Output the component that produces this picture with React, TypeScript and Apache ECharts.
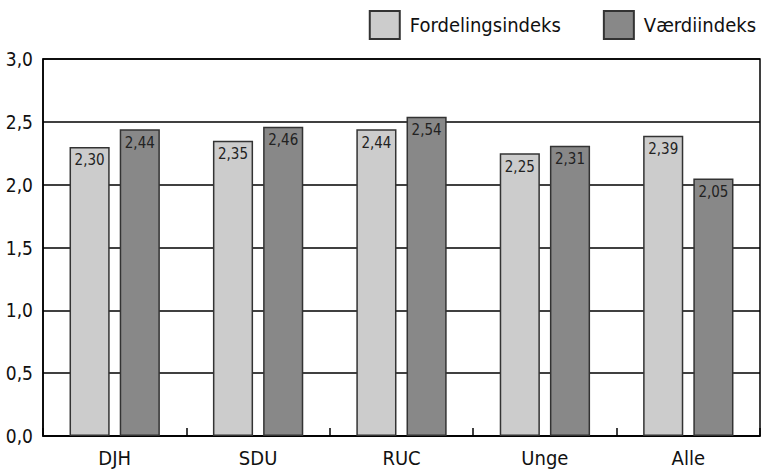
import React, { useEffect, useRef } from "react";
import * as echarts from "echarts";

const categories = ["DJH", "SDU", "RUC", "Unge", "Alle"];
const fordelingsindeks = [2.3, 2.35, 2.44, 2.25, 2.39];
const vaerdiindeks = [2.44, 2.46, 2.54, 2.31, 2.05];
const seriesNames = ["Fordelingsindeks", "Værdiindeks"];

const FONT = "'Liberation Sans Narrow', 'DejaVu Sans Condensed', 'Roboto', sans-serif";
const fmt = (v: number) => v.toFixed(2).replace(".", ",");

export default function App() {
  const ref = useRef<HTMLDivElement>(null);
  useEffect(() => {
    const chart = echarts.init(ref.current!, null, { renderer: "svg" });
    const label = {
      show: true,
      position: "insideTop" as const,
      distance: 6,
      color: "#222",
      fontSize: 15,
      fontFamily: FONT,
      formatter: (p: any) => fmt(p.value),
    };
    chart.setOption({
      animation: false,
      backgroundColor: "#fff",
      textStyle: { fontFamily: FONT },
      legend: {
        top: 5,
        right: 6,
        icon: "rect",
        itemWidth: 30,
        itemHeight: 28,
        itemGap: 42,
        textStyle: { fontSize: 20, color: "#111", fontFamily: FONT, padding: [0, 0, 0, 5] },
        data: seriesNames,
      },
      grid: {
        left: 43,
        right: 7,
        top: 59,
        bottom: 36,
        show: true,
        borderColor: "#000",
        borderWidth: 1.5,
      },
      xAxis: {
        type: "category",
        data: categories,
        axisLine: { show: true, lineStyle: { color: "#000", width: 1.5 } },
        axisTick: { show: true, inside: true, length: 8, alignWithLabel: false, lineStyle: { color: "#000", width: 1.5 } },
        axisLabel: { fontSize: 20, color: "#111", fontFamily: FONT, margin: 12 },
      },
      yAxis: {
        type: "value",
        min: 0,
        max: 3,
        interval: 0.5,
        axisLine: { show: true, lineStyle: { color: "#000", width: 1.5 } },
        axisTick: { show: false },
        splitLine: { show: true, lineStyle: { color: "#000", width: 1.5 } },
        axisLabel: {
          fontSize: 19,
          color: "#111",
          fontFamily: FONT,
          margin: 10,
          formatter: (v: number) => v.toFixed(1).replace(".", ","),
        },
      },
      series: [
        {
          name: seriesNames[0],
          type: "bar",
          data: fordelingsindeks,
          barWidth: "28%",
          barGap: "25%",
          itemStyle: { color: "#cccccc", borderColor: "#333", borderWidth: 1.5 },
          label,
        },
        {
          name: seriesNames[1],
          type: "bar",
          data: vaerdiindeks,
          barWidth: "28%",
          itemStyle: { color: "#888888", borderColor: "#333", borderWidth: 1.5 },
          label,
        },
      ],
    });
    return () => chart.dispose();
  }, []);
  return <div ref={ref} style={{ width: 767, height: 472, position: "absolute", left: 0, top: 0 }} />;
}
